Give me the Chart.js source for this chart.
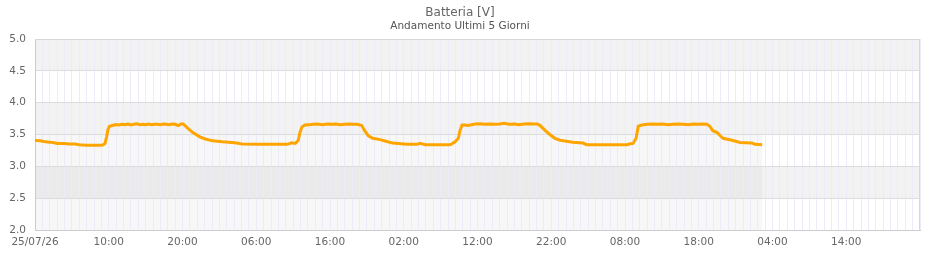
<!DOCTYPE html>
<html>
<head>
<meta charset="utf-8">
<script src="https://cdn.jsdelivr.net/npm/chart.js@4"></script>
<style>
  html, body { margin: 0; padding: 0; background: #fff; }
  #wrap { width: 940px; height: 260px; }
</style>
</head>
<body>
<div id="wrap"><canvas id="myChart" width="940" height="260"></canvas></div>
<script>
// ore dall'inizio (25/07/26 00:00)
const ore = [
  0, 0.7, 1.2, 2.0, 2.6, 3.0, 4.0, 4.6, 5.4, 6.0, 7.0, 8.0, 8.8, 9.2, 9.5, 9.7, 9.9,
  10.1, 10.6, 11.0, 11.4, 11.8, 12.2, 12.6, 13.0, 13.4, 13.8, 14.2, 14.6, 15.0, 15.4, 15.8,
  16.2, 16.6, 17.0, 17.4, 17.8, 18.2, 18.6, 19.0, 19.4, 19.8, 20.1,
  20.7, 21.4, 22.4, 23.1, 24.1, 25.4, 27.1, 28.1, 30.0, 31.5, 33.0, 33.9, 34.2, 34.8, 35.3,
  35.7, 35.9, 36.2, 36.6, 37.2, 37.7, 38.3, 39.0, 39.6, 40.2, 40.8, 41.4, 42.0, 42.6, 43.2, 43.7,
  44.3, 44.7, 45.2, 45.8, 46.8, 47.7, 48.5, 50.4, 51.8, 52.2, 52.9, 54.5, 56.3, 56.5, 57.0,
  57.4, 57.6, 57.9, 58.3, 58.7, 59.7, 60.4, 61.0, 61.7, 62.4, 63.0, 63.6, 64.3, 65.0, 65.6, 66.3,
  67.0, 67.8, 68.1, 68.5, 69.2, 69.8, 70.5, 71.2, 72.9, 74.3, 74.8, 77.0, 80.3, 80.7, 81.1,
  81.5, 81.8, 82.3, 83.0, 83.7, 84.4, 85.1, 85.8, 86.5, 87.2, 87.9, 88.6, 89.3, 90.0, 90.6, 91.1,
  91.5, 91.9, 92.5, 92.9, 93.3, 94.5, 95.6, 97.2, 97.6, 98.6
];
const tensione = [
  3.405, 3.40, 3.39, 3.38, 3.37, 3.36, 3.36, 3.35, 3.35, 3.34, 3.33, 3.33, 3.33, 3.335, 3.36, 3.46, 3.58,
  3.63, 3.645, 3.655, 3.65, 3.66, 3.655, 3.665, 3.65, 3.66, 3.67, 3.655, 3.66, 3.655, 3.665, 3.655,
  3.66, 3.66, 3.655, 3.665, 3.66, 3.655, 3.665, 3.66, 3.64, 3.665, 3.665,
  3.60, 3.53, 3.46, 3.43, 3.40, 3.385, 3.37, 3.35, 3.345, 3.345, 3.345, 3.345, 3.345, 3.37, 3.36,
  3.41, 3.52, 3.62, 3.65, 3.655, 3.66, 3.665, 3.655, 3.665, 3.66, 3.665, 3.655, 3.66, 3.665, 3.66, 3.66,
  3.64, 3.56, 3.48, 3.44, 3.42, 3.39, 3.365, 3.345, 3.345, 3.36, 3.34, 3.34, 3.34, 3.35, 3.39,
  3.44, 3.55, 3.65, 3.65, 3.64, 3.665, 3.67, 3.66, 3.665, 3.66, 3.665, 3.675, 3.66, 3.665, 3.655, 3.665,
  3.67, 3.665, 3.665, 3.64, 3.56, 3.50, 3.44, 3.41, 3.38, 3.365, 3.34, 3.34, 3.34, 3.355, 3.36,
  3.44, 3.63, 3.65, 3.66, 3.665, 3.66, 3.665, 3.655, 3.66, 3.665, 3.66, 3.655, 3.665, 3.66, 3.665, 3.66,
  3.63, 3.56, 3.53, 3.48, 3.44, 3.41, 3.375, 3.365, 3.345, 3.34
];
// etichette asse x, una ogni 10 ore
const xTickLabels = ['25/07/26', '10:00', '20:00', '06:00', '16:00', '02:00', '12:00', '22:00', '08:00', '18:00', '04:00', '14:00'];
const yTicks = [2.0, 2.5, 3.0, 3.5, 4.0, 4.5, 5.0];

const points = ore.map((t, i) => ({ x: t, y: tensione[i] }));

// fasce alternate + zona dati
const bandsPlugin = {
  id: 'bands',
  beforeDraw(chart) {
    const { ctx, chartArea: a, scales: { x, y } } = chart;
    ctx.save();
    for (let i = 0; i < yTicks.length - 1; i++) {
      if (i % 2 === 1) {
        const top = y.getPixelForValue(yTicks[i + 1]);
        const bot = y.getPixelForValue(yTicks[i]);
        ctx.fillStyle = '#f2f2f2';
        ctx.fillRect(a.left, top, a.right - a.left, bot - top);
      }
    }
    const xEnd = x.getPixelForValue(ore[ore.length - 1]);
    const yTop = y.getPixelForValue(3.5);
    ctx.fillStyle = 'rgba(0,0,0,0.03)';
    ctx.fillRect(a.left, yTop, xEnd - a.left, a.bottom - yTop);
    ctx.restore();
  },
  afterDatasetsDraw(chart) {
    const { ctx, chartArea: a } = chart;
    ctx.save();
    ctx.strokeStyle = '#d8d8d8';
    ctx.lineWidth = 1;
    ctx.beginPath();
    ctx.moveTo(a.left, a.top + 0.5);
    ctx.lineTo(a.right, a.top + 0.5);
    ctx.moveTo(a.right - 0.5, a.top);
    ctx.lineTo(a.right - 0.5, a.bottom);
    ctx.stroke();
    ctx.restore();
  }
};

const ctx = document.getElementById('myChart').getContext('2d');
const myChart = new Chart(ctx, {
  type: 'line',
  data: {
    datasets: [{
      label: 'Batteria',
      data: points,
      borderColor: '#FFA500',
      backgroundColor: '#FFA500',
      borderWidth: 3,
      pointRadius: 0,
      tension: 0
    }]
  },
  options: {
    responsive: false,
    animation: false,
    layout: { padding: { left: 0, right: 20, top: 0, bottom: 0 } },
    plugins: {
      legend: { display: false },
      tooltip: { enabled: false },
      title: {
        display: true,
        text: 'Batteria [V]',
        color: '#666',
        font: { family: 'DejaVu Sans', size: 12, weight: 'normal' },
        padding: { top: 5.5, bottom: 0 }
      },
      subtitle: {
        display: true,
        text: 'Andamento Ultimi 5 Giorni',
        color: '#555',
        font: { family: 'DejaVu Sans', size: 10.5, weight: 'normal' },
        padding: { top: 0, bottom: 6.5 }
      }
    },
    scales: {
      x: {
        type: 'linear',
        min: 0,
        max: 120,
        afterFit: s => { s.height = 30; },
        afterBuildTicks: s => {
          s.ticks = [];
          for (let v = 0; v <= 120; v++) s.ticks.push({ value: v });
        },
        grid: { color: '#ebebfa', drawTicks: false },
        border: { color: '#cccccc' },
        ticks: {
          autoSkip: false,
          maxRotation: 0,
          padding: 6,
          color: '#666',
          font: { family: 'DejaVu Sans', size: 10.5 },
          callback: v => (v % 10 === 0 && xTickLabels[v / 10]) ? xTickLabels[v / 10] : ''
        }
      },
      y: {
        min: 2,
        max: 5,
        afterFit: s => { s.width = 35; },
        grid: { color: '#dddddd', drawTicks: false },
        border: { color: '#cccccc' },
        ticks: {
          stepSize: 0.5,
          padding: 9,
          color: '#666',
          font: { family: 'DejaVu Sans', size: 10.5 },
          callback: v => v.toFixed(1)
        }
      }
    }
  },
  plugins: [bandsPlugin]
});
</script>
</body>
</html>
